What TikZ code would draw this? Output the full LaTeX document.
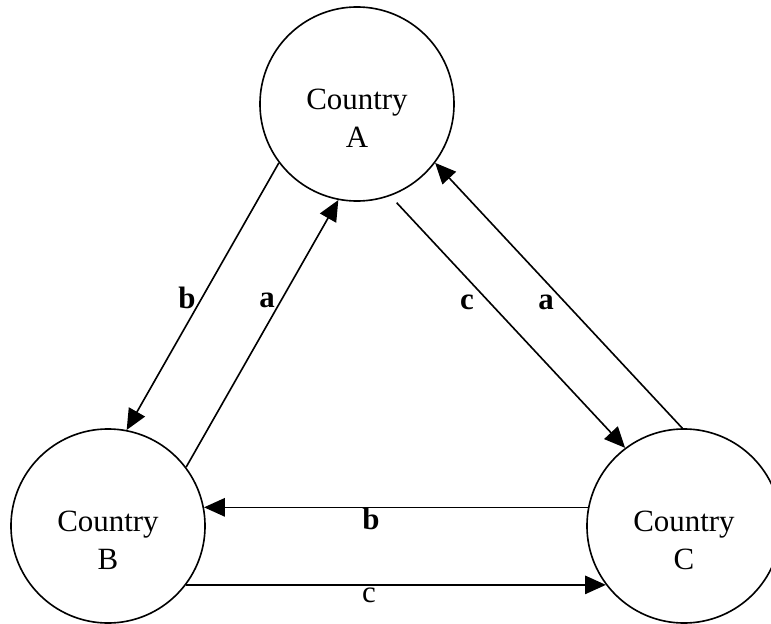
\documentclass[tikz,border=0pt]{standalone}
\usepackage{fontspec}
\setmainfont{Liberation Serif}
\usetikzlibrary{arrows.meta}
\begin{document}
\begin{tikzpicture}[x=0.025cm,y=-0.025cm,
    >={Triangle[length=0.52cm,width=0.46cm]},
    every path/.style={line width=1.15pt},
    country/.style={draw,circle,minimum size=4.85cm,inner sep=0pt},
    cname/.style={font=\fontsize{22}{27}\selectfont,align=center},
    flow/.style={font=\fontsize{22}{27}\selectfont\bfseries,inner sep=0pt},
    trade/.style={font=\fontsize{22}{27}\selectfont,inner sep=0pt}]
            \useasboundingbox (0,0) rectangle (771,624);
            \node[country] (A) at (357,104) {};
            \node[country] (B) at (108,526) {};
            \node[country] (C) at (684,526) {};
            \node[cname] (An) at (357,118) {Country\\A};
            \node[cname] (Bn) at (108,540) {Country\\B};
            \node[cname] (Cn) at (684,540) {Country\\C};
            \draw[->] (A.217) -- (B.79);
            \draw[->] (B.37) -- (A.259);
            \draw[->] ([shift={(3,8)}]A.292) -- (C.127);
            \draw[->] (C.91) -- (A.323);
            \draw[->] (C.169) -- (B.11);
            \draw[->] (B.-37) -- (C.217);
            \node[flow] (bAB) at (187,298) {b};
            \node[flow] (aBA) at (267,300) {a};
            \node[flow] (cAC) at (467,302) {c};
            \node[flow] (aCA) at (546,302) {a};
            \node[flow] (bCB) at (371,519) {b};
            \node[trade] (cBC) at (369,595) {c};
        \end{tikzpicture}
\end{document}
